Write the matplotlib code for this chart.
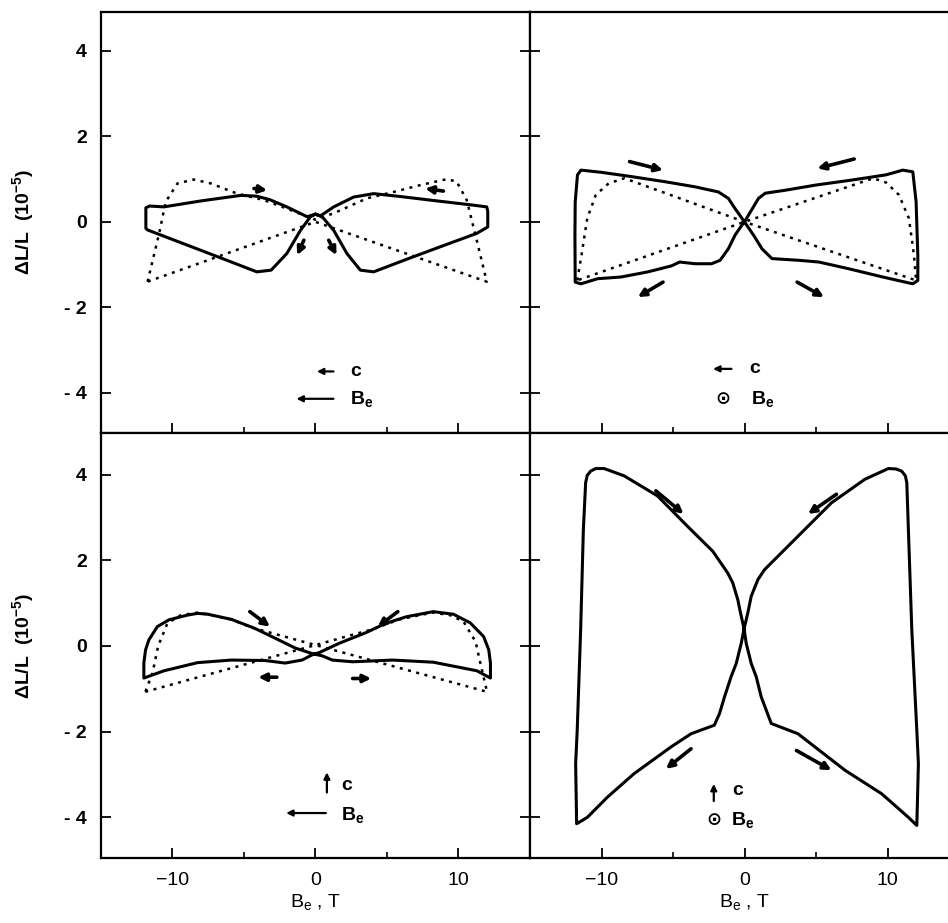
import numpy as np
import matplotlib
matplotlib.use("Agg")
import matplotlib.pyplot as plt

plt.rcParams['font.family'] = ['Liberation Sans', 'DejaVu Sans']
plt.rcParams['mathtext.default'] = 'regular'

# ---- magnetostriction loops, dL/L in 1e-5 vs B_e in T ----
# (a) c parallel to B_e, field along length
a_sol_x = [0.0, -0.35, -1.05, -2.0, -3.1, -4.1, -6.5, -9.0, -11.74, -11.86, -11.86, -11.6,
           -10.6, -8.0, -5.2, -4.1, -3.2, -2.0, -0.58, 0.0,
           0.35, 1.28, 2.67, 4.07, 6.0, 8.5, 11.05, 11.98, 12.05, 12.05, 11.28, 9.0, 6.5,
           4.07, 3.14, 2.2, 1.28, 0.47, 0.0]
a_sol_y = [0.18, 0.12, -0.2, -0.74, -1.13, -1.17, -0.86, -0.54, -0.19, -0.15, 0.33, 0.37,
           0.35, 0.49, 0.62, 0.6, 0.52, 0.35, 0.12, 0.18,
           0.14, 0.35, 0.58, 0.66, 0.59, 0.49, 0.39, 0.35, 0.25, -0.12, -0.27, -0.55, -0.86,
           -1.17, -1.13, -0.74, -0.2, 0.12, 0.18]
a_dot_x = [-11.74, -10.93, -10.47, -9.65, -8.5, -7.33, -5.47, -3.6, -2.0, -0.58, 0.0,
           0.58, 1.28, 3.6, 5.47, 7.33, 9.2, 9.88, 10.58, 11.28, 11.98, 0.0, -11.74]
a_dot_y = [-1.4, -0.27, 0.47, 0.9, 0.99, 0.9, 0.66, 0.51, 0.31, 0.12, 0.05,
           0.12, 0.2, 0.55, 0.7, 0.86, 1.0, 0.94, 0.51, -0.43, -1.4, 0.0, -1.4]
a_arrows = [(-4.3, 0.78, -3.37, 0.74), (8.95, 0.72, 7.67, 0.78),
            (-0.81, -0.43, -1.28, -0.78), (0.93, -0.43, 1.47, -0.78)]

# (b) c parallel to length, B_e out of plane
b_sol_x = [0.0, -0.66, -1.13, -1.83, -3.47, -5.58, -7.93, -10.04, -11.44, -11.68, -11.84,
           -11.86, -11.84, -11.44, -10.27, -8.63, -6.75, -5.11, -4.53, -3.47, -2.3, -1.71,
           -1.13, -0.66, -0.19, 0.0,
           0.98, 1.45, 2.86, 4.97, 7.55, 9.9, 11.07, 11.77, 12.0, 12.12, 12.12, 11.77,
           9.66, 7.32, 5.2, 3.8, 1.92, 1.22, 0.63, 0.16, 0.0]
b_sol_y = [0.0, 0.31, 0.55, 0.7, 0.82, 0.94, 1.06, 1.16, 1.21, 1.1, 0.47,
           -0.31, -1.41, -1.45, -1.33, -1.29, -1.17, -1.03, -0.94, -0.98, -0.98, -0.9,
           -0.63, -0.31, -0.08, 0.0,
           0.55, 0.67, 0.74, 0.86, 0.98, 1.1, 1.21, 1.17, 0.47, -0.78, -1.37, -1.45,
           -1.29, -1.1, -0.94, -0.9, -0.86, -0.63, -0.31, -0.08, 0.0]
b_dot_x = [-11.7, -11.4, -11.0, -10.4, -9.5, -8.4, 0.0, 12.0, 11.85, 11.5, 10.8, 9.9, 9.0, 0.0, -11.7]
b_dot_y = [-1.37, -0.78, 0.08, 0.63, 0.9, 1.02, 0.0, -1.37, -0.78, 0.08, 0.63, 0.92, 1.02, 0.0, -1.37]
b_arrows = [(-8.04, 1.41, -5.7, 1.21), (7.67, 1.47, 5.09, 1.25),
            (-5.7, -1.41, -7.46, -1.76), (3.68, -1.41, 5.56, -1.76)]

# (c) c perpendicular to length, field along length
c_sol_x = [-0.12, -1.41, -3.06, -4.24, -5.88, -7.53, -8.24, -8.94, -10.24, -11.06, -11.65,
           -11.88, -12.0, -12.0, -10.59, -8.24, -5.88, -3.53, -2.12, -0.94, -0.24, 0.0,
           0.24, 1.65, 3.53, 4.94, 6.35, 8.24, 9.65, 10.82, 11.76, 12.12, 12.24, 12.24,
           11.29, 8.24, 5.41, 2.59, 1.18, 0.47, -0.12]
c_sol_y = [-0.19, -0.05, 0.22, 0.41, 0.62, 0.74, 0.76, 0.72, 0.61, 0.45, 0.14,
           -0.09, -0.4, -0.75, -0.58, -0.39, -0.33, -0.34, -0.4, -0.33, -0.21, -0.18,
           -0.16, 0.06, 0.31, 0.53, 0.68, 0.8, 0.74, 0.54, 0.22, -0.09, -0.4, -0.75,
           -0.58, -0.38, -0.33, -0.37, -0.33, -0.23, -0.19]
c_dot_x = [-11.9, 0.0, 4.0, 5.9, 8.2, 9.4, 10.35, 11.2, 11.53, 12.0, 0.0,
           -4.47, -5.9, -8.2, -9.4, -10.35, -11.0, -11.4, -11.9]
c_dot_y = [-1.07, 0.02, 0.39, 0.62, 0.78, 0.72, 0.57, 0.1, -0.4, -1.07, 0.02,
           0.43, 0.62, 0.78, 0.72, 0.53, 0.0, -0.64, -1.07]
c_arrows = [(-4.59, 0.8, -3.18, 0.45), (5.76, 0.8, 4.35, 0.45),
            (-2.7, -0.73, -4.0, -0.73), (2.6, -0.76, 3.9, -0.76)]

# (d) c perpendicular to length, B_e out of plane
d_sol_x = [-0.03, -0.28, -0.47, -0.82, -1.17, -2.22, -3.98, -6.08, -8.42, -9.82, -10.4, -10.76,
           -11.0, -11.11, -11.27, -11.46, -11.7, -11.81, -11.74, -10.99, -9.59, -7.72, -5.15,
           -3.74, -2.11, -1.75, -1.4, -0.94, -0.58, -0.23, -0.03,
           0.23, 0.47, 0.94, 1.4, 2.81, 3.74, 6.08, 8.42, 10.06, 10.6, 10.99, 11.25, 11.35,
           11.46, 11.7, 12.05, 12.16, 12.05, 11.46, 9.59, 7.02, 3.74, 1.87, 1.52, 1.17, 0.82,
           0.47, 0.12, -0.03]
d_sol_y = [0.4, 0.77, 1.08, 1.47, 1.7, 2.21, 2.79, 3.5, 3.97, 4.14, 4.14, 4.08,
           3.98, 3.81, 2.72, 0.37, -1.97, -2.75, -4.15, -4.0, -3.53, -2.98, -2.36,
           -2.05, -1.85, -1.58, -1.19, -0.72, -0.41, 0.06, 0.4,
           0.77, 1.16, 1.55, 1.78, 2.25, 2.56, 3.34, 3.89, 4.14, 4.13, 4.08, 3.97, 3.81,
           2.72, 0.37, -1.97, -2.75, -4.19, -4.0, -3.45, -2.9, -2.05, -1.81, -1.5, -1.19, -0.72,
           -0.41, 0.06, 0.4]
d_arrows = [(-6.2, 3.62, -4.26, 3.08), (6.43, 3.54, 4.44, 3.08),
            (-3.74, -2.4, -5.5, -2.87), (3.63, -2.44, 6.08, -2.9)]

yticks = [-4, -2, 0, 2, 4]
ytick_labels = ['- 4', '- 2', '0', '2', '4']
xticks = [-10, 0, 10]
xtick_labels = ['\u221210', '0', '10']

fig = plt.figure(figsize=(9.48, 9.23), dpi=100)
ax_a = fig.add_axes([0.1065, 0.5309, 0.4525, 0.4561])
ax_b = fig.add_axes([0.5591, 0.5309, 0.4525, 0.4561])
ax_c = fig.add_axes([0.1065, 0.0704, 0.4525, 0.4605])
ax_d = fig.add_axes([0.5591, 0.0704, 0.4525, 0.4605])

panels = [
    (ax_a, a_sol_x, a_sol_y, a_dot_x, a_dot_y, a_arrows, (-4.94, 4.91)),
    (ax_b, b_sol_x, b_sol_y, b_dot_x, b_dot_y, b_arrows, (-4.94, 4.91)),
    (ax_c, c_sol_x, c_sol_y, c_dot_x, c_dot_y, c_arrows, (-4.95, 4.97)),
    (ax_d, d_sol_x, d_sol_y, None, None, d_arrows, (-4.95, 4.97)),
]

for ax, sx, sy, dx, dy, arrows, ylim in panels:
    ax.plot(sx, sy, color='k', lw=2.2, solid_joinstyle='round', solid_capstyle='round')
    if dx is not None:
        ax.plot(dx, dy, color='k', lw=1.8, linestyle=(0, (1.2, 2.2)))
    for x0, y0, x1, y1 in arrows:
        ax.annotate('', xy=(x1, y1), xytext=(x0, y0),
                    arrowprops=dict(arrowstyle='-|>', color='k', lw=2.6,
                                    mutation_scale=11, shrinkA=0, shrinkB=0))
    ax.set_xlim(-15, 15)
    ax.set_ylim(*ylim)
    ax.set_xticks(xticks)
    ax.set_xticks([-5, 5], minor=True)
    ax.set_yticks(yticks)
    ax.tick_params(axis='both', which='major', direction='in', length=7, width=1.3,
                   left=True, right=True, top=False, bottom=True)
    ax.tick_params(axis='x', which='minor', direction='in', length=4, width=1.2)
    ax.tick_params(axis='y', which='minor', left=False, right=False)
    for sp in ax.spines.values():
        sp.set_linewidth(1.6)
    ax.set_yticklabels([])
    ax.set_xticklabels([])

# y tick labels and axis titles on the left column
for ax in (ax_a, ax_c):
    ax.set_yticklabels(ytick_labels, fontsize=14, fontweight='bold')
    ax.tick_params(axis='y', pad=10)
    ax.set_ylabel('\u0394L/L  (10$^{-5}$)', fontsize=14, fontweight='bold')
    ax.yaxis.set_label_coords(-0.152, 0.5)

# x tick labels and axis titles on the bottom row
for ax in (ax_c, ax_d):
    ax.set_xticklabels(xtick_labels, fontsize=14)
    ax.tick_params(axis='x', pad=10)
    ax.set_xlabel('B$_{e}$ , T', fontsize=14, labelpad=2)

# orientation keys inside each panel
leg_arrow = dict(arrowstyle='-|>', color='k', lw=1.6, mutation_scale=9, shrinkA=0, shrinkB=0)
txt = dict(fontsize=14, fontweight='bold', va='center', ha='left')

ax_a.annotate('', xy=(0.1, -3.5), xytext=(1.26, -3.5), arrowprops=leg_arrow)
ax_a.text(2.45, -3.5, 'c', **txt)
ax_a.annotate('', xy=(-1.33, -4.14), xytext=(1.26, -4.14), arrowprops=leg_arrow)
ax_a.text(2.45, -4.14, 'B$_{e}$', **txt)

ax_b.annotate('', xy=(-2.2, -3.44), xytext=(-0.91, -3.44), arrowprops=leg_arrow)
ax_b.text(0.35, -3.44, 'c', **txt)
ax_b.text(-1.54, -4.14, '\u2299', fontsize=13, ha='center', va='center',
          family=['DejaVu Sans'], fontweight='bold')
ax_b.text(0.45, -4.14, 'B$_{e}$', **txt)

ax_c.annotate('', xy=(0.8, -2.95), xytext=(0.8, -3.42), arrowprops=leg_arrow)
ax_c.text(1.8, -3.25, 'c', **txt)
ax_c.annotate('', xy=(-2.05, -3.9), xytext=(0.73, -3.9), arrowprops=leg_arrow)
ax_c.text(1.8, -3.95, 'B$_{e}$', **txt)

ax_d.annotate('', xy=(-2.15, -3.22), xytext=(-2.15, -3.62), arrowprops=leg_arrow)
ax_d.text(-0.85, -3.37, 'c', **txt)
ax_d.text(-2.13, -4.07, '\u2299', fontsize=13, ha='center', va='center',
          family=['DejaVu Sans'], fontweight='bold')
ax_d.text(-0.95, -4.07, 'B$_{e}$', **txt)

fig.savefig('out.png', dpi=100)
